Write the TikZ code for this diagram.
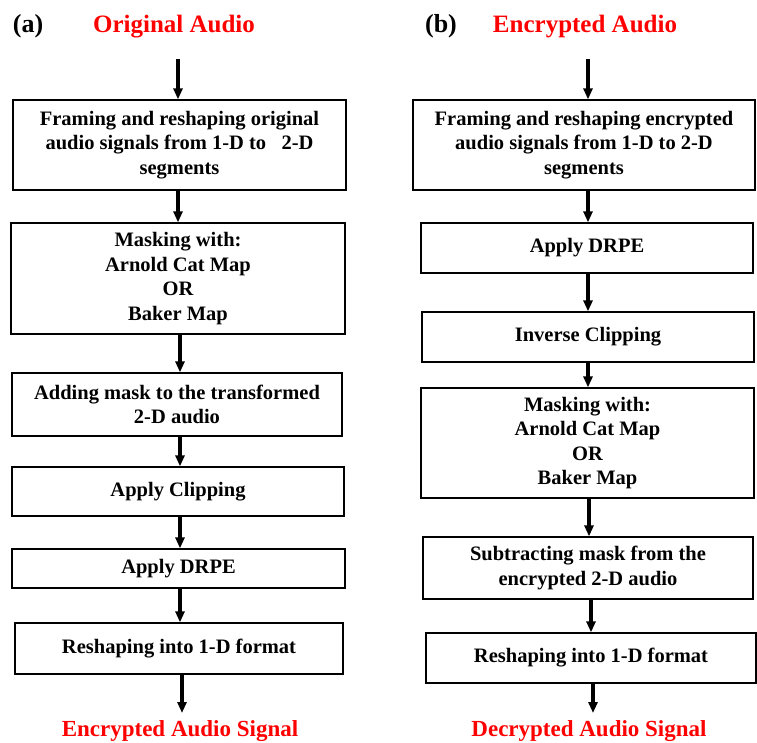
\documentclass[tikz,border=0pt]{standalone}
\usepackage{fontspec}
\setmainfont{Liberation Serif}
\usetikzlibrary{arrows.meta}

\begin{document}
\begin{tikzpicture}[x=1pt,y=-1pt,
  stepbox/.style={draw, line width=1.3pt, align=center, inner sep=0pt,
    font=\bfseries\fontsize{20.5}{24.5}\selectfont},
  flow/.style={line width=3.2pt, -{Triangle[length=11pt,width=9pt]}},
  heading/.style={text=red, anchor=base, inner sep=0pt,
    font=\bfseries\fontsize{25}{30}\selectfont},
  result/.style={text=red, anchor=base, inner sep=0pt,
    font=\bfseries\fontsize{23}{28}\selectfont},
  panel/.style={anchor=base, inner sep=0pt,
    font=\bfseries\fontsize{26}{30}\selectfont}]
\useasboundingbox (0,0) rectangle (757,742);

% ---------------- (a) encryption ----------------
\node[panel] (pa) at (28,32) {(a)};
\node[heading] (ta) at (174,32) {Original Audio};
\coordinate (ina) at (178,59);

\node[stepbox, minimum width=333pt, minimum height=90pt] (a1) at (179.5,145)
  {Framing and reshaping original\\audio signals from 1-D to\ \ \ 2-D\\segments};
\node[stepbox, minimum width=334pt, minimum height=111pt] (a2) at (178,278.5)
  {Masking with:\\Arnold Cat Map\\OR\\Baker Map};
\node[stepbox, minimum width=330pt, minimum height=63pt] (a3) at (177,404.5)
  {Adding mask to the transformed\\2-D audio};
\node[stepbox, minimum width=332pt, minimum height=49pt] (a4) at (178,491.5)
  {Apply Clipping};
\node[stepbox, minimum width=333pt, minimum height=39pt] (a5) at (178.5,568.5)
  {Apply DRPE};
\node[stepbox, minimum width=328pt, minimum height=51pt] (a6) at (179,648.5)
  {Reshaping into 1-D format};

\coordinate (outa) at (182,713);
\node[result] (ra) at (180,736) {Encrypted Audio Signal};

\draw[flow] (ina) -- (ina |- a1.north);
\draw[flow] (a1.south -| 178,0) -- (178,0 |- a2.north);
\draw[flow] (a2.south -| 180,0) -- (180,0 |- a3.north);
\draw[flow] (a3.south -| 180,0) -- (180,0 |- a4.north);
\draw[flow] (a4.south -| 180,0) -- (180,0 |- a5.north);
\draw[flow] (a5.south -| 180,0) -- (180,0 |- a6.north);
\draw[flow] (a6.south -| outa) -- (outa);

% ---------------- (b) decryption ----------------
\node[panel] (pb) at (441,32) {(b)};
\node[heading] (tb) at (585,32) {Encrypted Audio};
\coordinate (inb) at (588,59);

\node[stepbox, minimum width=342pt, minimum height=90pt] (b1) at (584,145)
  {Framing and reshaping encrypted\\audio signals from 1-D to 2-D\\segments};
\node[stepbox, minimum width=332pt, minimum height=50pt] (b2) at (587,248)
  {Apply DRPE};
\node[stepbox, minimum width=332pt, minimum height=50pt] (b3) at (588,337)
  {Inverse Clipping};
\node[stepbox, minimum width=333pt, minimum height=110pt] (b4) at (587.5,443)
  {Masking with:\\Arnold Cat Map\\OR\\Baker Map};
\node[stepbox, minimum width=330pt, minimum height=62pt] (b5) at (588,568)
  {Subtracting mask from the\\encrypted 2-D audio};
\node[stepbox, minimum width=330pt, minimum height=50pt] (b6) at (591,658)
  {Reshaping into 1-D format};

\coordinate (outb) at (593,713);
\node[result] (rb) at (589,736) {Decrypted Audio Signal};

\draw[flow] (inb) -- (inb |- b1.north);
\draw[flow] (b1.south -| 588,0) -- (588,0 |- b2.north);
\draw[flow] (b2.south -| 588,0) -- (588,0 |- b3.north);
\draw[flow] (b3.south -| 588,0) -- (588,0 |- b4.north);
\draw[flow] (b4.south -| 589,0) -- (589,0 |- b5.north);
\draw[flow] (b5.south -| 591,0) -- (591,0 |- b6.north);
\draw[flow] (b6.south -| outb) -- (outb);
\end{tikzpicture}
\end{document}
